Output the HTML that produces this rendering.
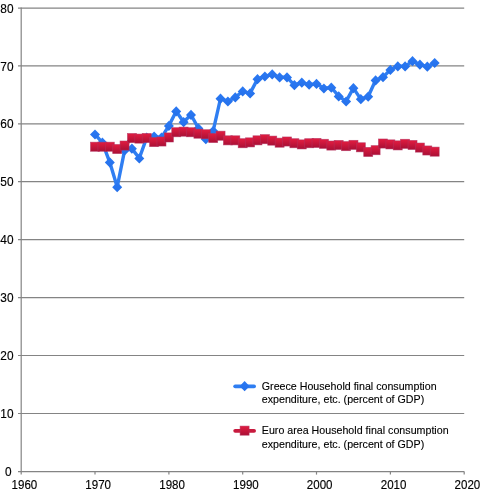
<!DOCTYPE html>
<html lang="en"><head><meta charset="utf-8"><title>Household final consumption expenditure</title>
<style>
html,body{margin:0;padding:0;background:#fff;}
body{width:482px;height:492px;overflow:hidden;}
svg{display:block;}
text{font-family:"Liberation Sans",sans-serif;font-size:10.9px;fill:#000;stroke:#000;stroke-width:0.12px;}
.ax{font-size:12.6px;stroke-width:0.15px;}
</style></head><body>
<svg width="482" height="492" viewBox="0 0 482 492">
<defs>
<linearGradient id="rg" x1="0" y1="0" x2="0" y2="1"><stop offset="0" stop-color="#e21c40"/><stop offset="1" stop-color="#aa1036"/></linearGradient>
<linearGradient id="bg" x1="0" y1="0" x2="0" y2="1"><stop offset="0" stop-color="#2b79f3"/><stop offset="1" stop-color="#2470ea"/></linearGradient>
</defs>
<rect width="482" height="492" fill="#fff"/>

<g stroke="#848484" stroke-width="1.2" fill="none">
<line x1="18" y1="471.6" x2="464.2" y2="471.6"/>
<line x1="18" y1="413.5" x2="464.2" y2="413.5"/>
<line x1="18" y1="355.5" x2="464.2" y2="355.5"/>
<line x1="18" y1="297.6" x2="464.2" y2="297.6"/>
<line x1="18" y1="239.7" x2="464.2" y2="239.7"/>
<line x1="18" y1="181.7" x2="464.2" y2="181.7"/>
<line x1="18" y1="123.8" x2="464.2" y2="123.8"/>
<line x1="18" y1="65.8" x2="464.2" y2="65.8"/>
<line x1="18" y1="8.1" x2="464.2" y2="8.1"/>
<line x1="21.2" y1="7.5" x2="21.2" y2="474.6"/>
<line x1="95.0" y1="471.6" x2="95.0" y2="474.6"/>
<line x1="168.9" y1="471.6" x2="168.9" y2="474.6"/>
<line x1="242.7" y1="471.6" x2="242.7" y2="474.6"/>
<line x1="316.5" y1="471.6" x2="316.5" y2="474.6"/>
<line x1="390.4" y1="471.6" x2="390.4" y2="474.6"/>
<line x1="464.2" y1="471.6" x2="464.2" y2="474.6"/>
</g>
<text class="ax" x="5.0" y="476.1" textLength="6.6" lengthAdjust="spacingAndGlyphs">0</text>
<text class="ax" x="0.3" y="418.1" textLength="13.2" lengthAdjust="spacingAndGlyphs">10</text>
<text class="ax" x="0.3" y="360.2" textLength="13.2" lengthAdjust="spacingAndGlyphs">20</text>
<text class="ax" x="0.3" y="302.2" textLength="13.2" lengthAdjust="spacingAndGlyphs">30</text>
<text class="ax" x="0.3" y="244.3" textLength="13.2" lengthAdjust="spacingAndGlyphs">40</text>
<text class="ax" x="0.3" y="186.4" textLength="13.2" lengthAdjust="spacingAndGlyphs">50</text>
<text class="ax" x="0.3" y="128.4" textLength="13.2" lengthAdjust="spacingAndGlyphs">60</text>
<text class="ax" x="0.3" y="70.5" textLength="13.2" lengthAdjust="spacingAndGlyphs">70</text>
<text class="ax" x="0.3" y="12.6" textLength="13.2" lengthAdjust="spacingAndGlyphs">80</text>
<text class="ax" x="24.4" y="489.0" text-anchor="middle" textLength="25.7" lengthAdjust="spacingAndGlyphs">1960</text>
<text class="ax" x="98.2" y="489.0" text-anchor="middle" textLength="25.7" lengthAdjust="spacingAndGlyphs">1970</text>
<text class="ax" x="172.1" y="489.0" text-anchor="middle" textLength="25.7" lengthAdjust="spacingAndGlyphs">1980</text>
<text class="ax" x="245.9" y="489.0" text-anchor="middle" textLength="25.7" lengthAdjust="spacingAndGlyphs">1990</text>
<text class="ax" x="319.7" y="489.0" text-anchor="middle" textLength="25.7" lengthAdjust="spacingAndGlyphs">2000</text>
<text class="ax" x="393.6" y="489.0" text-anchor="middle" textLength="25.7" lengthAdjust="spacingAndGlyphs">2010</text>
<text class="ax" x="467.4" y="489.0" text-anchor="middle" textLength="25.7" lengthAdjust="spacingAndGlyphs">2020</text>
<polyline points="95.0,134.4 102.4,142.6 109.8,162.3 117.2,187.0 124.6,150.3 131.9,148.6 139.3,158.3 146.7,137.6 154.1,136.4 161.5,137.6 168.9,125.7 176.2,111.2 183.6,122.0 191.0,114.7 198.4,128.3 205.8,139.0 213.2,130.9 220.5,98.5 227.9,101.4 235.3,97.3 242.7,91.3 250.1,93.3 257.5,79.1 264.9,76.4 272.2,74.3 279.6,77.3 287.0,77.3 294.4,85.1 301.8,82.6 309.1,84.6 316.5,83.7 323.9,88.4 331.3,87.5 338.7,96.2 346.1,101.4 353.4,88.1 360.8,99.1 368.2,96.5 375.6,80.2 383.0,77.1 390.4,69.8 397.8,66.3 405.1,66.3 412.5,61.1 419.9,64.6 427.3,66.6 434.7,62.9" fill="none" stroke="#2f7ef2" stroke-width="3.4" stroke-linejoin="round" stroke-linecap="round"/>
<path d="M95.0 129.4L100.0 134.6L95.0 139.6L90.0 134.6Z" fill="url(#bg)"/>
<path d="M102.4 137.6L107.4 142.8L102.4 147.8L97.4 142.8Z" fill="url(#bg)"/>
<path d="M109.8 157.3L114.8 162.5L109.8 167.5L104.8 162.5Z" fill="url(#bg)"/>
<path d="M117.2 182.0L122.2 187.2L117.2 192.2L112.2 187.2Z" fill="url(#bg)"/>
<path d="M124.6 145.3L129.6 150.5L124.6 155.5L119.6 150.5Z" fill="url(#bg)"/>
<path d="M131.9 143.6L136.9 148.8L131.9 153.8L126.9 148.8Z" fill="url(#bg)"/>
<path d="M139.3 153.3L144.3 158.5L139.3 163.5L134.3 158.5Z" fill="url(#bg)"/>
<path d="M146.7 132.6L151.7 137.8L146.7 142.8L141.7 137.8Z" fill="url(#bg)"/>
<path d="M154.1 131.4L159.1 136.6L154.1 141.6L149.1 136.6Z" fill="url(#bg)"/>
<path d="M161.5 132.6L166.5 137.8L161.5 142.8L156.5 137.8Z" fill="url(#bg)"/>
<path d="M168.9 120.7L173.9 125.9L168.9 130.9L163.9 125.9Z" fill="url(#bg)"/>
<path d="M176.2 106.2L181.2 111.4L176.2 116.4L171.2 111.4Z" fill="url(#bg)"/>
<path d="M183.6 117.0L188.6 122.2L183.6 127.2L178.6 122.2Z" fill="url(#bg)"/>
<path d="M191.0 109.7L196.0 114.9L191.0 119.9L186.0 114.9Z" fill="url(#bg)"/>
<path d="M198.4 123.3L203.4 128.5L198.4 133.5L193.4 128.5Z" fill="url(#bg)"/>
<path d="M205.8 134.0L210.8 139.2L205.8 144.2L200.8 139.2Z" fill="url(#bg)"/>
<path d="M213.2 125.9L218.2 131.1L213.2 136.1L208.2 131.1Z" fill="url(#bg)"/>
<path d="M220.5 93.5L225.5 98.7L220.5 103.7L215.5 98.7Z" fill="url(#bg)"/>
<path d="M227.9 96.4L232.9 101.6L227.9 106.6L222.9 101.6Z" fill="url(#bg)"/>
<path d="M235.3 92.3L240.3 97.5L235.3 102.5L230.3 97.5Z" fill="url(#bg)"/>
<path d="M242.7 86.3L247.7 91.5L242.7 96.5L237.7 91.5Z" fill="url(#bg)"/>
<path d="M250.1 88.3L255.1 93.5L250.1 98.5L245.1 93.5Z" fill="url(#bg)"/>
<path d="M257.5 74.1L262.5 79.3L257.5 84.3L252.5 79.3Z" fill="url(#bg)"/>
<path d="M264.9 71.4L269.9 76.6L264.9 81.6L259.9 76.6Z" fill="url(#bg)"/>
<path d="M272.2 69.3L277.2 74.5L272.2 79.5L267.2 74.5Z" fill="url(#bg)"/>
<path d="M279.6 72.3L284.6 77.5L279.6 82.5L274.6 77.5Z" fill="url(#bg)"/>
<path d="M287.0 72.3L292.0 77.5L287.0 82.5L282.0 77.5Z" fill="url(#bg)"/>
<path d="M294.4 80.1L299.4 85.3L294.4 90.3L289.4 85.3Z" fill="url(#bg)"/>
<path d="M301.8 77.6L306.8 82.8L301.8 87.8L296.8 82.8Z" fill="url(#bg)"/>
<path d="M309.1 79.6L314.1 84.8L309.1 89.8L304.1 84.8Z" fill="url(#bg)"/>
<path d="M316.5 78.7L321.5 83.9L316.5 88.9L311.5 83.9Z" fill="url(#bg)"/>
<path d="M323.9 83.4L328.9 88.6L323.9 93.6L318.9 88.6Z" fill="url(#bg)"/>
<path d="M331.3 82.5L336.3 87.7L331.3 92.7L326.3 87.7Z" fill="url(#bg)"/>
<path d="M338.7 91.2L343.7 96.4L338.7 101.4L333.7 96.4Z" fill="url(#bg)"/>
<path d="M346.1 96.4L351.1 101.6L346.1 106.6L341.1 101.6Z" fill="url(#bg)"/>
<path d="M353.4 83.1L358.4 88.3L353.4 93.3L348.4 88.3Z" fill="url(#bg)"/>
<path d="M360.8 94.1L365.8 99.3L360.8 104.3L355.8 99.3Z" fill="url(#bg)"/>
<path d="M368.2 91.5L373.2 96.7L368.2 101.7L363.2 96.7Z" fill="url(#bg)"/>
<path d="M375.6 75.2L380.6 80.4L375.6 85.4L370.6 80.4Z" fill="url(#bg)"/>
<path d="M383.0 72.1L388.0 77.3L383.0 82.3L378.0 77.3Z" fill="url(#bg)"/>
<path d="M390.4 64.8L395.4 70.0L390.4 75.0L385.4 70.0Z" fill="url(#bg)"/>
<path d="M397.8 61.3L402.8 66.5L397.8 71.5L392.8 66.5Z" fill="url(#bg)"/>
<path d="M405.1 61.3L410.1 66.5L405.1 71.5L400.1 66.5Z" fill="url(#bg)"/>
<path d="M412.5 56.1L417.5 61.3L412.5 66.3L407.5 61.3Z" fill="url(#bg)"/>
<path d="M419.9 59.6L424.9 64.8L419.9 69.8L414.9 64.8Z" fill="url(#bg)"/>
<path d="M427.3 61.6L432.3 66.8L427.3 71.8L422.3 66.8Z" fill="url(#bg)"/>
<path d="M434.7 57.9L439.7 63.1L434.7 68.1L429.7 63.1Z" fill="url(#bg)"/>
<polyline points="95.0,146.9 102.4,146.9 109.8,146.9 117.2,149.2 124.6,145.7 131.9,138.2 139.3,138.8 146.7,138.2 154.1,142.2 161.5,141.7 168.9,137.6 176.2,132.4 183.6,131.8 191.0,132.4 198.4,133.8 205.8,134.4 213.2,138.2 220.5,135.9 227.9,140.5 235.3,140.5 242.7,143.4 250.1,142.5 257.5,140.5 264.9,139.3 272.2,140.8 279.6,142.8 287.0,141.7 294.4,143.4 301.8,144.6 309.1,143.4 316.5,143.1 323.9,144.0 331.3,145.7 338.7,145.1 346.1,146.3 353.4,145.0 360.8,147.5 368.2,152.1 375.6,150.3 383.0,143.7 390.4,144.6 397.8,145.5 405.1,144.0 412.5,145.1 419.9,147.7 427.3,150.6 434.7,151.8" fill="none" stroke="#c81a3e" stroke-width="3.4" stroke-linejoin="round"/>
<rect x="90.53" y="142.17" width="9.0" height="9.1" fill="url(#rg)" stroke="#b4305e" stroke-opacity="0.75" stroke-width="0.7"/>
<rect x="97.92" y="142.17" width="9.0" height="9.1" fill="url(#rg)" stroke="#b4305e" stroke-opacity="0.75" stroke-width="0.7"/>
<rect x="105.30" y="142.17" width="9.0" height="9.1" fill="url(#rg)" stroke="#b4305e" stroke-opacity="0.75" stroke-width="0.7"/>
<rect x="112.68" y="144.49" width="9.0" height="9.1" fill="url(#rg)" stroke="#b4305e" stroke-opacity="0.75" stroke-width="0.7"/>
<rect x="120.07" y="141.01" width="9.0" height="9.1" fill="url(#rg)" stroke="#b4305e" stroke-opacity="0.75" stroke-width="0.7"/>
<rect x="127.45" y="133.48" width="9.0" height="9.1" fill="url(#rg)" stroke="#b4305e" stroke-opacity="0.75" stroke-width="0.7"/>
<rect x="134.83" y="134.06" width="9.0" height="9.1" fill="url(#rg)" stroke="#b4305e" stroke-opacity="0.75" stroke-width="0.7"/>
<rect x="142.22" y="133.48" width="9.0" height="9.1" fill="url(#rg)" stroke="#b4305e" stroke-opacity="0.75" stroke-width="0.7"/>
<rect x="149.60" y="137.54" width="9.0" height="9.1" fill="url(#rg)" stroke="#b4305e" stroke-opacity="0.75" stroke-width="0.7"/>
<rect x="156.98" y="136.96" width="9.0" height="9.1" fill="url(#rg)" stroke="#b4305e" stroke-opacity="0.75" stroke-width="0.7"/>
<rect x="164.37" y="132.90" width="9.0" height="9.1" fill="url(#rg)" stroke="#b4305e" stroke-opacity="0.75" stroke-width="0.7"/>
<rect x="171.75" y="127.69" width="9.0" height="9.1" fill="url(#rg)" stroke="#b4305e" stroke-opacity="0.75" stroke-width="0.7"/>
<rect x="179.13" y="127.11" width="9.0" height="9.1" fill="url(#rg)" stroke="#b4305e" stroke-opacity="0.75" stroke-width="0.7"/>
<rect x="186.52" y="127.69" width="9.0" height="9.1" fill="url(#rg)" stroke="#b4305e" stroke-opacity="0.75" stroke-width="0.7"/>
<rect x="193.90" y="129.13" width="9.0" height="9.1" fill="url(#rg)" stroke="#b4305e" stroke-opacity="0.75" stroke-width="0.7"/>
<rect x="201.28" y="129.71" width="9.0" height="9.1" fill="url(#rg)" stroke="#b4305e" stroke-opacity="0.75" stroke-width="0.7"/>
<rect x="208.67" y="133.48" width="9.0" height="9.1" fill="url(#rg)" stroke="#b4305e" stroke-opacity="0.75" stroke-width="0.7"/>
<rect x="216.05" y="131.16" width="9.0" height="9.1" fill="url(#rg)" stroke="#b4305e" stroke-opacity="0.75" stroke-width="0.7"/>
<rect x="223.43" y="135.80" width="9.0" height="9.1" fill="url(#rg)" stroke="#b4305e" stroke-opacity="0.75" stroke-width="0.7"/>
<rect x="230.82" y="135.80" width="9.0" height="9.1" fill="url(#rg)" stroke="#b4305e" stroke-opacity="0.75" stroke-width="0.7"/>
<rect x="238.20" y="138.69" width="9.0" height="9.1" fill="url(#rg)" stroke="#b4305e" stroke-opacity="0.75" stroke-width="0.7"/>
<rect x="245.58" y="137.83" width="9.0" height="9.1" fill="url(#rg)" stroke="#b4305e" stroke-opacity="0.75" stroke-width="0.7"/>
<rect x="252.97" y="135.80" width="9.0" height="9.1" fill="url(#rg)" stroke="#b4305e" stroke-opacity="0.75" stroke-width="0.7"/>
<rect x="260.35" y="134.64" width="9.0" height="9.1" fill="url(#rg)" stroke="#b4305e" stroke-opacity="0.75" stroke-width="0.7"/>
<rect x="267.73" y="136.09" width="9.0" height="9.1" fill="url(#rg)" stroke="#b4305e" stroke-opacity="0.75" stroke-width="0.7"/>
<rect x="275.12" y="138.12" width="9.0" height="9.1" fill="url(#rg)" stroke="#b4305e" stroke-opacity="0.75" stroke-width="0.7"/>
<rect x="282.50" y="136.96" width="9.0" height="9.1" fill="url(#rg)" stroke="#b4305e" stroke-opacity="0.75" stroke-width="0.7"/>
<rect x="289.88" y="138.69" width="9.0" height="9.1" fill="url(#rg)" stroke="#b4305e" stroke-opacity="0.75" stroke-width="0.7"/>
<rect x="297.27" y="139.85" width="9.0" height="9.1" fill="url(#rg)" stroke="#b4305e" stroke-opacity="0.75" stroke-width="0.7"/>
<rect x="304.65" y="138.69" width="9.0" height="9.1" fill="url(#rg)" stroke="#b4305e" stroke-opacity="0.75" stroke-width="0.7"/>
<rect x="312.03" y="138.40" width="9.0" height="9.1" fill="url(#rg)" stroke="#b4305e" stroke-opacity="0.75" stroke-width="0.7"/>
<rect x="319.42" y="139.27" width="9.0" height="9.1" fill="url(#rg)" stroke="#b4305e" stroke-opacity="0.75" stroke-width="0.7"/>
<rect x="326.80" y="141.01" width="9.0" height="9.1" fill="url(#rg)" stroke="#b4305e" stroke-opacity="0.75" stroke-width="0.7"/>
<rect x="334.18" y="140.43" width="9.0" height="9.1" fill="url(#rg)" stroke="#b4305e" stroke-opacity="0.75" stroke-width="0.7"/>
<rect x="341.57" y="141.59" width="9.0" height="9.1" fill="url(#rg)" stroke="#b4305e" stroke-opacity="0.75" stroke-width="0.7"/>
<rect x="348.95" y="140.32" width="9.0" height="9.1" fill="url(#rg)" stroke="#b4305e" stroke-opacity="0.75" stroke-width="0.7"/>
<rect x="356.33" y="142.75" width="9.0" height="9.1" fill="url(#rg)" stroke="#b4305e" stroke-opacity="0.75" stroke-width="0.7"/>
<rect x="363.72" y="147.39" width="9.0" height="9.1" fill="url(#rg)" stroke="#b4305e" stroke-opacity="0.75" stroke-width="0.7"/>
<rect x="371.10" y="145.65" width="9.0" height="9.1" fill="url(#rg)" stroke="#b4305e" stroke-opacity="0.75" stroke-width="0.7"/>
<rect x="378.48" y="138.98" width="9.0" height="9.1" fill="url(#rg)" stroke="#b4305e" stroke-opacity="0.75" stroke-width="0.7"/>
<rect x="385.87" y="139.85" width="9.0" height="9.1" fill="url(#rg)" stroke="#b4305e" stroke-opacity="0.75" stroke-width="0.7"/>
<rect x="393.25" y="140.84" width="9.0" height="9.1" fill="url(#rg)" stroke="#b4305e" stroke-opacity="0.75" stroke-width="0.7"/>
<rect x="400.63" y="139.27" width="9.0" height="9.1" fill="url(#rg)" stroke="#b4305e" stroke-opacity="0.75" stroke-width="0.7"/>
<rect x="408.02" y="140.43" width="9.0" height="9.1" fill="url(#rg)" stroke="#b4305e" stroke-opacity="0.75" stroke-width="0.7"/>
<rect x="415.40" y="143.04" width="9.0" height="9.1" fill="url(#rg)" stroke="#b4305e" stroke-opacity="0.75" stroke-width="0.7"/>
<rect x="422.78" y="145.94" width="9.0" height="9.1" fill="url(#rg)" stroke="#b4305e" stroke-opacity="0.75" stroke-width="0.7"/>
<rect x="430.17" y="147.10" width="9.0" height="9.1" fill="url(#rg)" stroke="#b4305e" stroke-opacity="0.75" stroke-width="0.7"/>
<line x1="235.2" y1="386.3" x2="254.1" y2="386.3" stroke="#2f7ef2" stroke-width="3.8" stroke-linecap="round"/>
<path d="M244.6 381.1L249.6 386.3L244.6 391.3L239.6 386.3Z" fill="url(#bg)"/>
<line x1="235.2" y1="430.8" x2="254.1" y2="430.8" stroke="#c81a3e" stroke-width="3.8" stroke-linecap="round"/>
<rect x="240.10" y="426.10" width="9.0" height="9.1" fill="url(#rg)" stroke="#b4305e" stroke-opacity="0.75" stroke-width="0.7"/>
<text x="261.8" y="389.7" textLength="174.8" lengthAdjust="spacingAndGlyphs">Greece Household final consumption</text>
<text x="261.8" y="402.9" textLength="162.4" lengthAdjust="spacingAndGlyphs">expenditure, etc. (percent of GDP)</text>
<text x="261.8" y="434.4" textLength="186.8" lengthAdjust="spacingAndGlyphs">Euro area Household final consumption</text>
<text x="261.8" y="447.5" textLength="162.4" lengthAdjust="spacingAndGlyphs">expenditure, etc. (percent of GDP)</text>
</svg></body></html>
